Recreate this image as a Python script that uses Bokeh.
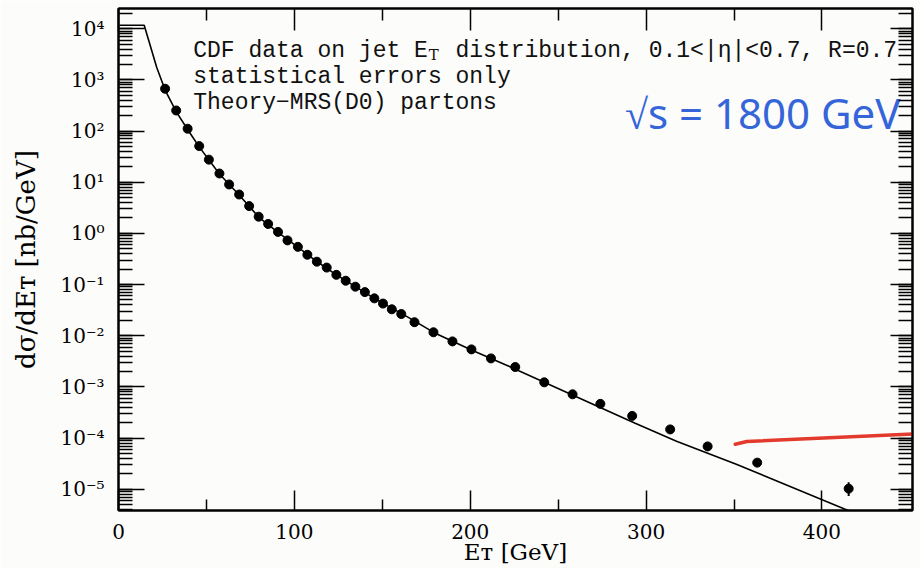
import math
from bokeh.plotting import figure
from bokeh.models import (LinearAxis, LogAxis, FixedTicker, LogTicker,
                          CustomJSTickFormatter, Range1d)
from bokeh.core.properties import value
from bokeh.embed import file_html
from bokeh.resources import INLINE

# ---------------- data ----------------
et_data = [26.5, 32.8, 39.3, 45.9, 51.4, 57.4, 62.9, 68.6, 74.3, 79.7,
           85.1, 90.7, 96.1, 102.0, 107.4, 112.8, 118.4, 123.9, 129.2, 134.7,
           140.1, 145.5, 150.4, 155.4, 160.8, 168.3, 179.1, 189.9, 200.7, 211.8,
           225.6, 242.1, 258.2, 274.0, 292.1, 313.7, 335.0, 363.2, 415.2]
dsig_data = [670, 252, 111, 50.8, 27.6, 14.8, 9.04, 5.75, 3.42, 2.12,
             1.53, 1.07, 0.730, 0.546, 0.383, 0.280, 0.215, 0.155, 0.119, 0.0910,
             0.0713, 0.0538, 0.0426, 0.0329, 0.0266, 0.0184, 0.0117, 0.00776, 0.00542, 0.00361,
             0.00245, 0.00123, 7.18e-4, 4.67e-4, 2.72e-4, 1.48e-4, 6.89e-5, 3.32e-5, 1.03e-5]

err_et = [415.2]
err_lo = [7.4e-6]
err_hi = [1.38e-5]

et_theory = [0.5, 14.6, 17.7, 21.7, 26.5, 32.8, 39.3, 45.9, 57.4, 68.6,
             79.7, 90.7, 102.0, 112.8, 123.9, 134.7, 145.5, 164.3, 179.5, 200.7,
             221.0, 259.7, 293.8, 317.3, 351.3, 416.0]
dsig_theory = [11700, 11700, 5110, 1770, 631, 240, 107, 49.0, 14.5, 5.62,
               2.09, 1.05, 0.537, 0.282, 0.155, 0.0912, 0.0537, 0.0234, 0.0115, 0.00525,
               0.00263, 6.61e-4, 1.95e-4, 8.71e-5, 3.09e-5, 3.72e-6]

red_x = [350.7, 357.3, 452.0]
red_y = [7.6e-5, 8.6e-5, 1.2e-4]

x_major_ticks = [0, 100, 200, 300, 400]
x_minor_ticks = [50, 150, 250, 350]

note_head = ["CDF data on jet E"]
note_sub = ["T"]
note_tail = ["distribution, 0.1<|\u03b7|<0.7, R=0.7"]
note_lines = ["statistical errors only", "Theory\u2212MRS(D0) partons"]
handwritten = ["\u221as = 1800 GeV"]

x_title = "E\u1d1b [GeV]"
y_title = "d\u03c3/dE\u1d1b [nb/GeV]"

# ---------------- figure ----------------
BG = "#fcfcfa"
p = figure(width=920, height=568, y_axis_type="log",
           x_range=Range1d(0, 451.5), y_range=Range1d(10 ** -5.414, 10 ** 4.394),
           output_backend="svg", toolbar_location=None,
           min_border_left=118, min_border_right=8, min_border_top=8,
           min_border_bottom=58,
           background_fill_color=BG, border_fill_color=BG)
p.grid.visible = False
p.outline_line_color = "black"
p.outline_line_width = 2

SERIF = "DejaVu Serif"
MONO = "Liberation Mono"

xa = p.xaxis[0]
xa.ticker = FixedTicker(ticks=x_major_ticks, minor_ticks=x_minor_ticks)
xa.major_tick_in = 20
xa.major_tick_out = 0
xa.minor_tick_in = 11
xa.minor_tick_out = 0
xa.major_tick_line_width = 1.5
xa.minor_tick_line_width = 1.5
xa.axis_line_width = 2
xa.major_label_text_font = SERIF
xa.major_label_text_font_size = "20px"
xa.major_label_text_color = "black"
xa.major_label_standoff = 13
xa.axis_label = x_title
xa.axis_label_text_font = SERIF
xa.axis_label_text_font_size = "23px"
xa.axis_label_text_font_style = "normal"
xa.axis_label_text_color = "black"
xa.axis_label_standoff = -3

sup_js = """
const e = Math.round(Math.log10(tick));
const m = {"-": "\u207b", "0": "\u2070", "1": "\u00b9", "2": "\u00b2", "3": "\u00b3",
           "4": "\u2074", "5": "\u2075", "6": "\u2076", "7": "\u2077", "8": "\u2078", "9": "\u2079"};
return "10" + String(e).split("").map(c => m[c]).join("");
"""

ya = p.yaxis[0]
ya.ticker = LogTicker(num_minor_ticks=10)
ya.formatter = CustomJSTickFormatter(code=sup_js)
ya.major_tick_in = 26
ya.major_tick_out = 0
ya.minor_tick_in = 14
ya.minor_tick_out = 0
ya.major_tick_line_width = 1.5
ya.minor_tick_line_width = 1.5
ya.axis_line_width = 2
ya.major_label_text_font = SERIF
ya.major_label_text_font_size = "20px"
ya.major_label_text_color = "black"
ya.major_label_standoff = 14
ya.axis_label = y_title
ya.axis_label_text_font = SERIF
ya.axis_label_text_font_size = "26px"
ya.axis_label_text_font_style = "normal"
ya.axis_label_text_color = "black"
ya.axis_label_standoff = 16

blank = "return '';"
top = LinearAxis(ticker=FixedTicker(ticks=x_major_ticks, minor_ticks=x_minor_ticks),
                 formatter=CustomJSTickFormatter(code=blank),
                 major_label_text_font_size="1px", major_label_standoff=0,
                 major_tick_in=22, major_tick_out=0, minor_tick_in=12, minor_tick_out=0,
                 major_tick_line_width=1.5, minor_tick_line_width=1.5, axis_line_width=2)
p.add_layout(top, "above")
right = LogAxis(ticker=LogTicker(num_minor_ticks=10),
                formatter=CustomJSTickFormatter(code=blank),
                major_label_text_font_size="1px", major_label_standoff=0,
                major_tick_in=22, major_tick_out=0, minor_tick_in=14, minor_tick_out=0,
                major_tick_line_width=1.5, minor_tick_line_width=1.5, axis_line_width=2)
p.add_layout(right, "right")

# ---------------- marks ----------------
p.line(et_theory, dsig_theory, line_color="black", line_width=1.6)
p.segment(err_et, err_lo, err_et, err_hi, line_color="black", line_width=2)
p.scatter(et_data, dsig_data, size=9, fill_color="black", line_color="black")
p.line(red_x, red_y, line_color="#e23a2c", line_width=3.5, line_cap="round")

FS = 23
CW = 0.6 * FS   # monospace advance
TXT = dict(text_baseline="alphabetic", text_color="#111111", text_align="left")
y1, y2, y3 = 10 ** 3.558, 10 ** 3.051, 10 ** 2.551
p.text(x=[42.5], y=[y1], text=note_head,
       text_font=value(MONO), text_font_size=f"{FS}px", **TXT)
p.text(x=[42.5], y=[y1], text=note_sub, x_offset=17 * CW + 1, y_offset=4,
       text_font=value(SERIF), text_font_size="15px", **TXT)
p.text(x=[42.5], y=[y1], text=note_tail, x_offset=19 * CW,
       text_font=value(MONO), text_font_size=f"{FS}px", **TXT)
p.text(x=[42.5, 42.5], y=[y2, y3], text=note_lines,
       text_font=value(MONO), text_font_size=f"{FS}px", **TXT)
p.text(x=[288.0], y=[10 ** 2.37], text=handwritten,
       text_font=value("Noto Sans"), text_font_size="42px",
       text_baseline="alphabetic", text_align="left", text_color="#3465d9")

open("out.html", "w").write(file_html(p, INLINE))
